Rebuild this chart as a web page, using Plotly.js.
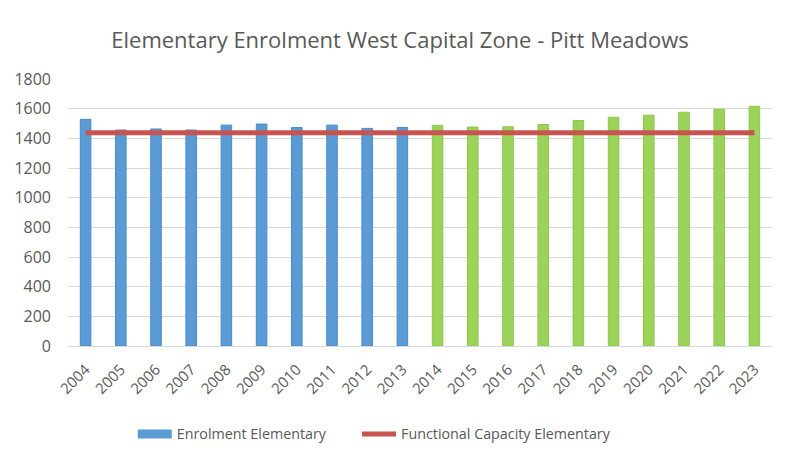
<!DOCTYPE html>
<html>
<head>
<meta charset="utf-8">
<script src="https://cdn.plot.ly/plotly-3.0.1.min.js"></script>
<style>html,body{margin:0;padding:0;background:#fff;}#chart{width:800px;height:469px;}</style>
</head>
<body>
<div id="chart"></div>
<script>
const actualYears = ["2004","2005","2006","2007","2008","2009","2010","2011","2012","2013"];
const actualEnrolment = [1528, 1456, 1463, 1456, 1489, 1496, 1473, 1489, 1467, 1473];
const projectedYears = ["2014","2015","2016","2017","2018","2019","2020","2021","2022","2023"];
const projectedEnrolment = [1487, 1476, 1478, 1493, 1520, 1542, 1556, 1576, 1596, 1616];
const functionalCapacity = 1437;

const allYears = actualYears.concat(projectedYears);

const font = "'Open Sans', 'Liberation Sans', sans-serif";
const blue = '#5B9BD5';
const pad = '\u00a0'.repeat(7);
const traces = [
  {
    type: 'bar', name: 'Enrolment Elementary', x: actualYears, y: actualEnrolment,
    marker: {color: blue, line: {color: '#4A8AC6', width: 1}}, showlegend: false
  },
  {
    type: 'bar', name: 'Projected Enrolment', x: projectedYears, y: projectedEnrolment,
    marker: {color: '#9BD25A', line: {color: '#8CC94C', width: 1}}, showlegend: false
  },
  {
    // legend-only entry so the key shows a wide rectangle like the original
    type: 'scatter', mode: 'lines', name: 'Enrolment Elementary' + pad,
    x: [null], y: [null], line: {color: blue, width: 9}, showlegend: true, hoverinfo: 'skip'
  },
  {
    type: 'scatter', mode: 'lines', name: 'Functional Capacity Elementary',
    x: allYears, y: allYears.map(() => functionalCapacity),
    line: {color: '#C9534F', width: 5}
  }
];

const layout = {
  width: 800, height: 469,
  margin: {l: 68, r: 28, t: 79, b: 123},
  paper_bgcolor: '#fff', plot_bgcolor: '#fff',
  font: {family: font, color: '#595959', size: 14},
  title: {text: 'Elementary Enrolment West Capital Zone - Pitt Meadows', x: 0.5, xanchor: 'center', y: 0.915, yanchor: 'middle',
          font: {family: font, size: 22, color: '#595959'}},
  barmode: 'overlay', bargap: 0.70,
  xaxis: {type: 'category', categoryorder: 'array', categoryarray: allYears,
          tickangle: -45, showgrid: false, showline: true, linecolor: '#d9d9d9', linewidth: 1,
          ticks: '', ticklabelstandoff: 8, tickfont: {size: 15, color: '#595959'}},
  yaxis: {range: [0, 1800], dtick: 200, showgrid: true, gridcolor: '#d9d9d9', gridwidth: 1,
          zeroline: false, showline: false, ticks: '', ticklabelstandoff: 16,
          tickfont: {size: 16, color: '#595959'}},
  legend: {orientation: 'h', x: 0.092, xanchor: 'left', y: -0.33, yanchor: 'middle',
           font: {size: 14.3, color: '#595959'}, itemwidth: 34},
  showlegend: true
};

Plotly.newPlot('chart', traces, layout, {displayModeBar: false, staticPlot: true});
</script>
</body>
</html>
